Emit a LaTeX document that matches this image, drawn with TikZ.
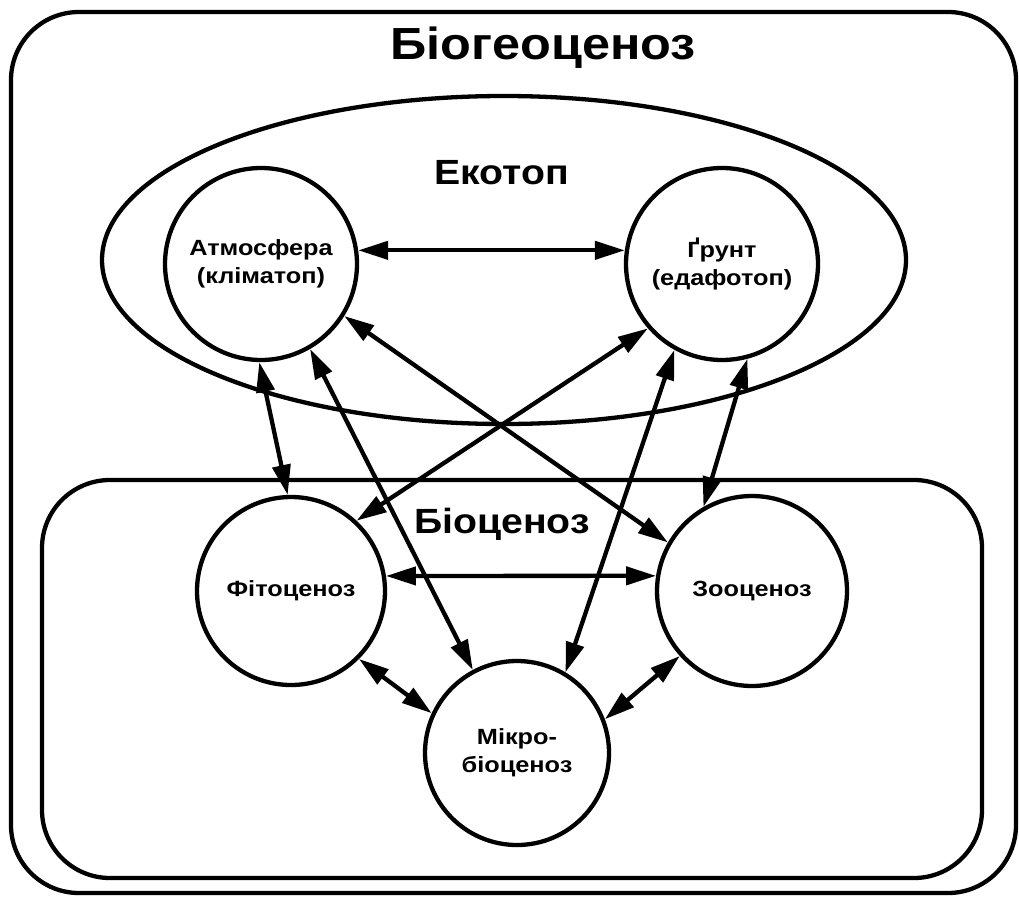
\documentclass[tikz,border=0pt]{standalone}
\usepackage{fontspec}
\setmainfont{Liberation Sans}
\newfontfamily\widefont[FakeStretch=1.15]{Liberation Sans}
\newfontfamily\headfont[FakeStretch=1.12]{Liberation Sans}
\usetikzlibrary{arrows.meta,shapes.geometric}
\begin{document}
\begin{tikzpicture}[x=1pt,y=-1pt,
  blob/.style={circle,draw,line width=4.3pt,minimum size=#1,inner sep=0pt,align=center,
    font=\widefont\bfseries\fontsize{22}{28}\selectfont},
  link/.style={{Triangle[length=30pt,width=18pt]}-{Triangle[length=30pt,width=18pt]},line width=4.3pt},
  frame/.style={draw,rectangle,rounded corners=68pt,line width=4.3pt,inner sep=0pt},
  oval/.style={draw,ellipse,line width=4.3pt,inner sep=0pt},
  head/.style={anchor=base,font=\headfont\bfseries\fontsize{#1}{#1}\selectfont},
  ]
\useasboundingbox (0,0) rectangle (1019,896);
\node[frame,minimum width=1005pt,minimum height=881pt] (outer) at (513.5,452.5) {};
\node[oval,minimum width=804pt,minimum height=328pt] (ekotop) at (504,260) {};
\node[frame,minimum width=940pt,minimum height=398pt] (bioc) at (512,679) {};

\node[head=45] (t1) at (543,60) {Біогеоценоз};
\node[head=35] (t2) at (502,185) {Екотоп};
\node[head=35] (t3) at (502,533) {Біоценоз};

\node[blob=192pt] (atm) at (261,264) {Атмосфера\\(кліматоп)};
\node[blob=192pt] (gr) at (722,264) {Ґрунт\\(едафотоп)};
\node[blob=188pt] (fito) at (291,591) {Фітоценоз};
\node[blob=190pt] (zoo) at (752,591) {Зооценоз};
\node[blob=184pt] (mikro) at (517,753) {Мікро-\\біоценоз};

\draw[link] (atm.8) -- (gr.172);
\draw[link] (atm.-91) -- (fito.92);
\draw[link] (atm.-60) -- (mikro.118);
\draw[link] (atm.-32) -- (zoo.150);
\draw[link] (gr.221) -- (fito.47);
\draw[link] (gr.241) -- (mikro.59);
\draw[link] (gr.-75) -- (zoo.120);
\draw[link] (fito.9) -- (zoo.171);
\draw[link] (fito.-45) -- (mikro.155);
\draw[link] (zoo.222) -- (mikro.21);
\end{tikzpicture}
\end{document}
